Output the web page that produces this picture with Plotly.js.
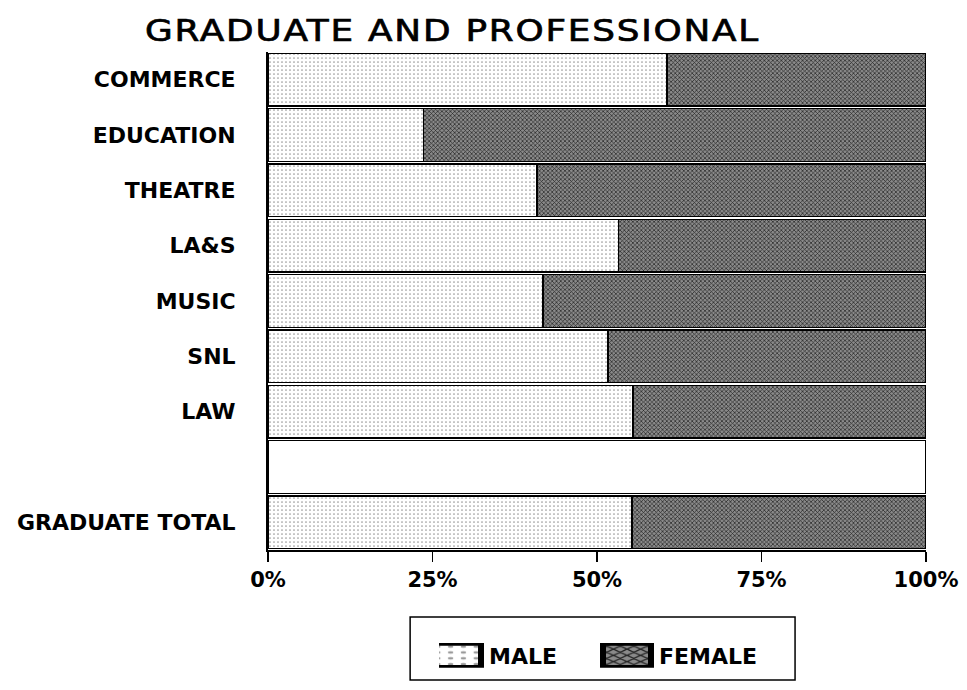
<!DOCTYPE html>
<html><head><meta charset="utf-8">
<script src="https://cdn.plot.ly/plotly-3.0.1.min.js"></script>
<style>html,body{margin:0;padding:0;background:#fff}
.gtitle{letter-spacing:1.5px; stroke:#000; stroke-width:0.7px}
</style>
</head><body><div id="chart" style="width:967px;height:690px"></div>
<script>
const categories = ["COMMERCE","EDUCATION","THEATRE","LA&S","MUSIC","SNL","LAW"," ","GRADUATE TOTAL"];
const malePct =   [60.6, 23.6, 40.9, 53.3, 41.8, 51.7, 55.5, null, 55.3];
const femalePct = [39.4, 76.4, 59.1, 46.7, 58.2, 48.3, 44.5, null, 44.7];
const spacer =    [null, null, null, null, null, null, null, 100, null];
const tickVals = [0, 25, 50, 75, 100];
const tickText = ["0%", "25%", "50%", "75%", "100%"];

const fontFam = "DejaVu Sans, Arial, sans-serif";
const traces = [
  {type:'bar', orientation:'h', name:'MALE', y:categories, x:malePct,
   marker:{color:'#ffffff', line:{color:'#000', width:1.5},
     pattern:{shape:'.', fgcolor:'#9a9a9a', bgcolor:'#ffffff', size:4, solidity:0.15}}},
  {type:'bar', orientation:'h', name:'FEMALE', y:categories, x:femalePct,
   marker:{color:'#555', line:{color:'#000', width:1.5},
     pattern:{shape:'x', fgcolor:'#222', bgcolor:'#8a8a8a', size:3, solidity:0.4}}},
  {type:'bar', orientation:'h', name:'', y:categories, x:spacer, showlegend:false, hoverinfo:'skip',
   marker:{color:'#ffffff', line:{color:'#000', width:1.5}}}
];
const layout = {
  width:967, height:690, barmode:'stack', bargap:0.05,
  paper_bgcolor:'#fff', plot_bgcolor:'#fff',
  margin:{l:268, r:41, t:52, b:140},
  font:{family:fontFam, color:'#000'},
  title:{text:'GRADUATE AND PROFESSIONAL', font:{size:30, family:fontFam, color:'#000'},
         xref:'container', x:0.468, xanchor:'center', yref:'container', y:0.956, yanchor:'middle'},
  xaxis:{range:[0,100], tickvals:tickVals, ticktext:tickText, showgrid:false, zeroline:false,
         showline:true, linecolor:'#000', linewidth:2, ticks:'outside', ticklen:10, tickwidth:1.5, tickcolor:'#000',
         tickfont:{size:21, family:fontFam, weight:'bold'}, fixedrange:true},
  yaxis:{autorange:'reversed', showgrid:false, zeroline:false, showline:true, linecolor:'#000', linewidth:2,
         ticks:'', ticklabelstandoff:26,
         tickfont:{size:22, family:fontFam, weight:'bold'}},
  legend:{orientation:'h', traceorder:'normal', x:0.2599, xanchor:'left', y:-0.212, yanchor:'middle',
          borderwidth:0, bgcolor:'rgba(0,0,0,0)',
          font:{size:22, family:fontFam, weight:'bold'}, entrywidth:115, itemwidth:40},
  shapes:[{type:'rect', xref:'paper', yref:'paper', x0:0.216, x1:0.801, y0:-0.1345, y1:-0.261,
           line:{color:'#000', width:1.5}, fillcolor:'rgba(0,0,0,0)'}],
  showlegend:true
};
Plotly.newPlot('chart', traces, layout, {displayModeBar:false, staticPlot:true}).then(function(gd){
  gd.querySelectorAll('.legendpoints path').forEach(function(p){
    p.setAttribute('transform', 'translate(18,0) scale(4,1.83)');
  });
  var t = gd.querySelector('.gtitle');
  if (t) {
    var bb = t.getBBox();
    var cx = bb.x + bb.width / 2;
    var s = 615 / bb.width;
    t.setAttribute('transform', 'translate(' + cx + ',0) scale(' + s + ',1) translate(' + (-cx) + ',0)');
  }
});
</script></body></html>
